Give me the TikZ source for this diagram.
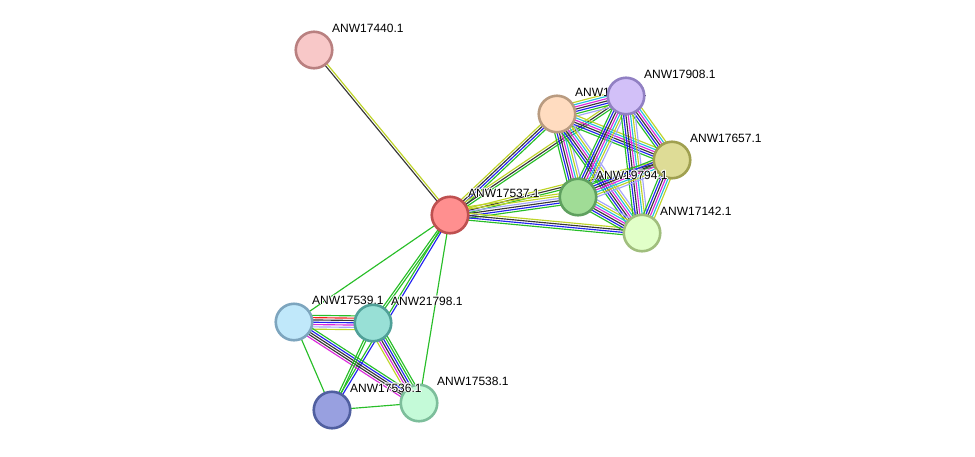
\documentclass[tikz,border=0pt]{standalone}
\usepackage{fontspec}
\setmainfont{Liberation Sans}
\usetikzlibrary{calc}

% evidence channel colours
\definecolor{cNb}{RGB}{40,190,40}
\definecolor{cFus}{RGB}{245,30,30}
\definecolor{cCoo}{RGB}{35,35,240}
\definecolor{cCoex}{RGB}{55,55,55}
\definecolor{cExp}{RGB}{220,40,220}
\definecolor{cDb}{RGB}{40,190,220}
\definecolor{cTm}{RGB}{190,212,40}
\definecolor{cHom}{RGB}{165,165,250}

% protein node colours (fill / rim)
\definecolor{fC}{RGB}{255,143,143}  \definecolor{dC}{RGB}{190,80,80}
\definecolor{fA}{RGB}{248,200,200}  \definecolor{dA}{RGB}{185,128,128}
\definecolor{fP}{RGB}{255,220,192}  \definecolor{dP}{RGB}{185,155,128}
\definecolor{fV}{RGB}{210,192,248}  \definecolor{dV}{RGB}{145,128,195}
\definecolor{fY}{RGB}{222,220,150}  \definecolor{dY}{RGB}{160,160,80}
\definecolor{fG}{RGB}{160,220,150}  \definecolor{dG}{RGB}{95,160,95}
\definecolor{fL}{RGB}{225,255,200}  \definecolor{dL}{RGB}{160,190,125}
\definecolor{fS}{RGB}{192,232,250}  \definecolor{dS}{RGB}{125,165,190}
\definecolor{fT}{RGB}{152,224,214}  \definecolor{dT}{RGB}{80,160,152}
\definecolor{fD}{RGB}{152,160,224}  \definecolor{dD}{RGB}{80,95,160}
\definecolor{fM}{RGB}{196,250,216}  \definecolor{dM}{RGB}{125,190,155}

\tikzset{
  ln/.style={line width=1.15pt},
  nb/.style={ln,draw=cNb},
  fus/.style={ln,draw=cFus},
  coo/.style={ln,draw=cCoo},
  coex/.style={ln,draw=cCoex},
  expt/.style={ln,draw=cExp},
  db/.style={ln,draw=cDb},
  tm/.style={ln,draw=cTm},
  hom/.style={ln,draw=cHom},
  prot/.style 2 args={circle,minimum size=36.5pt,inner sep=0pt,line width=2.6pt,fill=#1,draw=#2},
  lbl/.style={anchor=base west,inner sep=0pt,font=\fontsize{12}{14}\selectfont,text=black}
}

% white halo behind label text
\newcommand\hcopy[3]{\rlap{\kern#1\raise#2\hbox{\textcolor{white}{#3}}}}
\newcommand\haloed[1]{%
  \hcopy{0.9pt}{0pt}{#1}\hcopy{-0.9pt}{0pt}{#1}%
  \hcopy{0pt}{0.9pt}{#1}\hcopy{0pt}{-0.9pt}{#1}%
  \hcopy{0.65pt}{0.65pt}{#1}\hcopy{-0.65pt}{0.65pt}{#1}%
  \hcopy{0.65pt}{-0.65pt}{#1}\hcopy{-0.65pt}{-0.65pt}{#1}%
  #1}

% bundle of parallel evidence lines between two nodes
% #1,#2 nodes, #3 number of lines, #4 list of channel styles
\newcommand\evbundle[4]{%
  \foreach \c [count=\i] in {#4}{%
    \pgfmathsetmacro\off{(\i-1-(#3-1)/2)*2.3}
    \draw[\c] ($(#1)!\off pt!90:(#2)$) -- ($(#2)!\off pt!-90:(#1)$);
  }%
}

\begin{document}
\begin{tikzpicture}[x=1pt,y=-1pt]
\useasboundingbox (0,0) rectangle (975,456);

% node positions (drawn later, names needed for the bundles)
\coordinate (pc) at (450,215);
\coordinate (pa) at (314,50);
\coordinate (pp) at (557,114);
\coordinate (pv) at (626,96);
\coordinate (py) at (672,160);
\coordinate (pg) at (578,197);
\coordinate (pl) at (642,233);
\coordinate (ps) at (294,322);
\coordinate (pt) at (373,323);
\coordinate (pd) at (332,410);
\coordinate (pm) at (419,403);

% interaction bundles
\evbundle{pc}{pa}{2}{tm,coex}
\evbundle{pc}{pp}{4}{nb,coo,coex,tm}
\evbundle{pc}{pv}{3}{nb,coex,tm}
\evbundle{pc}{py}{3}{nb,coex,tm}
\evbundle{pc}{pg}{6}{nb,coo,coex,hom,tm,tm}
\evbundle{pc}{pl}{4}{nb,coo,coex,tm}
\evbundle{pc}{ps}{1}{nb}
\evbundle{pc}{pt}{2}{nb,nb}
\evbundle{pc}{pd}{2}{nb,coo}
\evbundle{pc}{pm}{1}{nb}

\evbundle{pp}{pv}{7}{hom,nb,coo,coex,expt,db,tm}
\evbundle{pp}{py}{6}{nb,coo,coex,expt,db,tm}
\evbundle{pp}{pg}{7}{nb,coo,coex,expt,db,tm,hom}
\evbundle{pp}{pl}{7}{nb,coo,coex,expt,db,tm,hom}
\evbundle{pv}{py}{6}{nb,coo,coex,expt,db,tm}
\evbundle{pv}{pg}{7}{nb,coo,coex,expt,db,tm,hom}
\evbundle{pv}{pl}{7}{nb,coo,coex,expt,db,tm,hom}
\evbundle{py}{pg}{7}{nb,coo,coex,expt,db,tm,hom}
\evbundle{py}{pl}{6}{nb,coo,coex,expt,db,tm}
\evbundle{pg}{pl}{7}{nb,coo,coex,expt,db,tm,hom}

\evbundle{ps}{pt}{7}{tm,hom,expt,coo,coex,fus,nb}
\evbundle{ps}{pm}{5}{expt,coex,coex,coo,nb}
\evbundle{ps}{pd}{1}{nb}
\evbundle{pt}{pm}{6}{tm,expt,coex,coo,nb,nb}
\evbundle{pt}{pd}{2}{nb,nb}
\evbundle{pd}{pm}{1}{nb}

% proteins and their labels
\node[prot={fC}{dC}] (c) at (pc) {};
\node[lbl] (cl) at ($(c)+(18,-18)$) {\haloed{ANW17537.1}};
\node[prot={fA}{dA}] (a) at (pa) {};
\node[lbl] (al) at ($(a)+(18,-18)$) {\haloed{ANW17440.1}};
\node[prot={fP}{dP}] (p) at (pp) {};
\node[lbl] (pl2) at ($(p)+(18,-18)$) {\haloed{ANW17435.1}};
\node[prot={fV}{dV}] (v) at (pv) {};
\node[lbl] (vl) at ($(v)+(18,-18)$) {\haloed{ANW17908.1}};
\node[prot={fY}{dY}] (y) at (py) {};
\node[lbl] (yl) at ($(y)+(18,-18)$) {\haloed{ANW17657.1}};
\node[prot={fL}{dL}] (l) at (pl) {};
\node[lbl] (ll) at ($(l)+(18,-18)$) {\haloed{ANW17142.1}};
\node[prot={fG}{dG}] (g) at (pg) {};
\node[lbl] (gl) at ($(g)+(18,-18)$) {\haloed{ANW19794.1}};
\node[prot={fS}{dS}] (s) at (ps) {};
\node[lbl] (sl) at ($(s)+(18,-18)$) {\haloed{ANW17539.1}};
\node[prot={fT}{dT}] (t) at (pt) {};
\node[lbl] (tl) at ($(t)+(18,-18)$) {\haloed{ANW21798.1}};
\node[prot={fM}{dM}] (m) at (pm) {};
\node[lbl] (ml) at ($(m)+(18,-18)$) {\haloed{ANW17538.1}};
\node[prot={fD}{dD}] (d) at (pd) {};
\node[lbl] (dl) at ($(d)+(18,-18)$) {\haloed{ANW17536.1}};
\end{tikzpicture}
\end{document}
